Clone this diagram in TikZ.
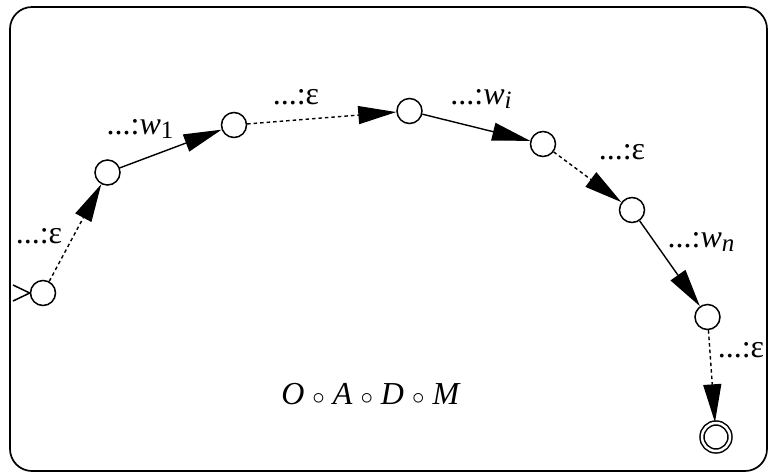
\documentclass[tikz,border=0pt]{standalone}
\usepackage{fontspec}
\setmainfont{Liberation Serif}
\usetikzlibrary{arrows.meta}
\begin{document}
\begin{tikzpicture}[x=1pt,y=-1pt,
  st/.style={circle,draw,line width=1.5pt,minimum size=25pt,inner sep=0pt},
  fin/.style={circle,draw,double,double distance=2.5pt,line width=1.5pt,minimum size=28pt,inner sep=0pt},
  tr/.style={line width=1.4pt,-{Triangle[length=38pt,width=18pt]}},
  eps/.style={tr,dash pattern=on 3.5pt off 3pt},
  lab/.style={font=\fontsize{32}{34}\selectfont,inner sep=0pt}]
\useasboundingbox (0,0) rectangle (771,475);
\draw[line width=1.7pt,rounded corners=22pt] (10,7) rectangle (767,471);
\node[st] (n0) at (43,293) {};
\node[st] (n1) at (107.5,172.5) {};
\node[st] (n2) at (234,125) {};
\node[st] (n3) at (409.5,111) {};
\node[st] (n4) at (543,144) {};
\node[st] (n5) at (632,210) {};
\node[st] (n6) at (707.5,317) {};
\node[fin] (f) at (716,437) {};
\coordinate (s1) at (13,285);
\coordinate (s2) at (13,301);
\draw[line width=1.5pt] (s1) -- (n0.west) -- (s2);
\draw[eps] (n0) -- (n1);
\draw[tr] (n1) -- (n2);
\draw[eps] (n2) -- (n3);
\draw[tr] (n3) -- (n4);
\draw[eps] (n4) -- (n5);
\draw[tr] (n5) -- (n6);
\draw[eps] (n6) -- (f);
\node[lab] (l0) at (39,236) {...:ε};
\node[lab] (l1) at (140,129) {...:\textit{w}\raisebox{-0.3ex}{\fontsize{25}{26}\selectfont 1}};
\node[lab] (l2) at (296,97) {...:ε};
\node[lab] (l3) at (481,99) {...:\textit{w}\raisebox{-0.3ex}{\fontsize{25}{26}\selectfont\itshape i}};
\node[lab] (l4) at (622,152) {...:ε};
\node[lab] (l5) at (701,242) {...:\textit{w}\raisebox{-0.3ex}{\fontsize{25}{26}\selectfont\itshape n}};
\node[lab] (l6) at (741,350) {...:ε};
\node[lab] (oadm) at (371,394) {\textit{O} $\circ$ \textit{A} $\circ$ \textit{D} $\circ$ \textit{M}};
\end{tikzpicture}
\end{document}
